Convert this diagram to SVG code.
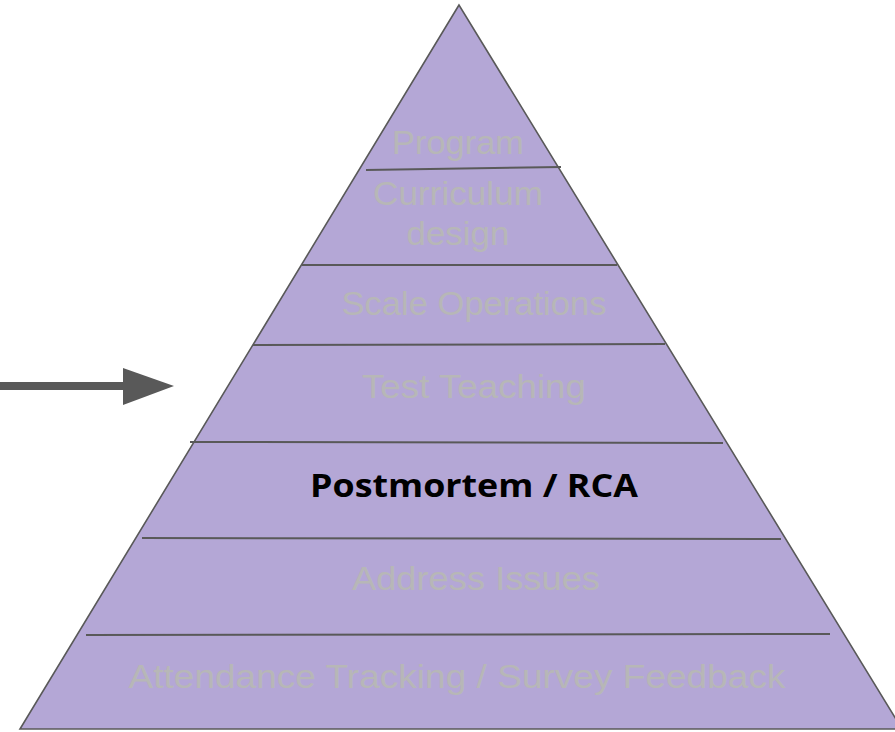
<svg xmlns="http://www.w3.org/2000/svg" width="895" height="732" viewBox="0 0 895 732">
  <style>
    .tier { fill: #b4a7d6; stroke: #595959; stroke-width: 1.6; }
    .rule { stroke: #595959; stroke-width: 2; fill: none; }
    .faded { font-family: "Liberation Sans", Arial, sans-serif; font-size: 34px; fill: #b7b7b7; text-anchor: middle; }
    .focus { font-family: "Open Sans", "Liberation Sans", sans-serif; font-size: 33px; font-weight: bold; fill: #000000; text-anchor: middle; }
  </style>
  <rect width="895" height="732" fill="#ffffff"/>

  <!-- pyramid body -->
  <g id="pyramid">
    <polygon class="tier" points="459,5 20,729 902,729"/>
  </g>

  <!-- tier dividers -->
  <g id="dividers">
    <line class="rule" x1="366" y1="170" x2="561" y2="167"/>
    <line class="rule" x1="302" y1="265" x2="617" y2="265"/>
    <line class="rule" x1="253" y1="345" x2="665" y2="344"/>
    <line class="rule" x1="190" y1="442" x2="723" y2="443"/>
    <line class="rule" x1="142" y1="538" x2="781" y2="539"/>
    <line class="rule" x1="86" y1="635" x2="830" y2="634"/>
  </g>

  <!-- tier labels, top to bottom -->
  <g id="tier-program">
    <text class="faded" x="458" y="154" textLength="132" lengthAdjust="spacingAndGlyphs">Program</text>
  </g>
  <g id="tier-curriculum">
    <text class="faded" x="458" y="205" textLength="170" lengthAdjust="spacingAndGlyphs">Curriculum</text>
    <text class="faded" x="458" y="245" textLength="103" lengthAdjust="spacingAndGlyphs">design</text>
  </g>
  <g id="tier-scale">
    <text class="faded" x="474" y="315" textLength="265" lengthAdjust="spacingAndGlyphs">Scale Operations</text>
  </g>
  <g id="tier-test">
    <text class="faded" x="474" y="398" textLength="224" lengthAdjust="spacingAndGlyphs">Test Teaching</text>
  </g>
  <g id="tier-postmortem">
    <text class="focus" x="474" y="497" textLength="328" lengthAdjust="spacingAndGlyphs">Postmortem / RCA</text>
  </g>
  <g id="tier-address">
    <text class="faded" x="476" y="590" textLength="248" lengthAdjust="spacingAndGlyphs">Address Issues</text>
  </g>
  <g id="tier-attendance">
    <text class="faded" x="457" y="688" textLength="657" lengthAdjust="spacingAndGlyphs">Attendance Tracking / Survey Feedback</text>
  </g>

  <!-- pointer arrow -->
  <g id="connectors">
    <line x1="0" y1="386" x2="125" y2="386" stroke="#595959" stroke-width="8"/>
    <polygon points="123,368 174,386 123,405" fill="#595959"/>
  </g>
</svg>
